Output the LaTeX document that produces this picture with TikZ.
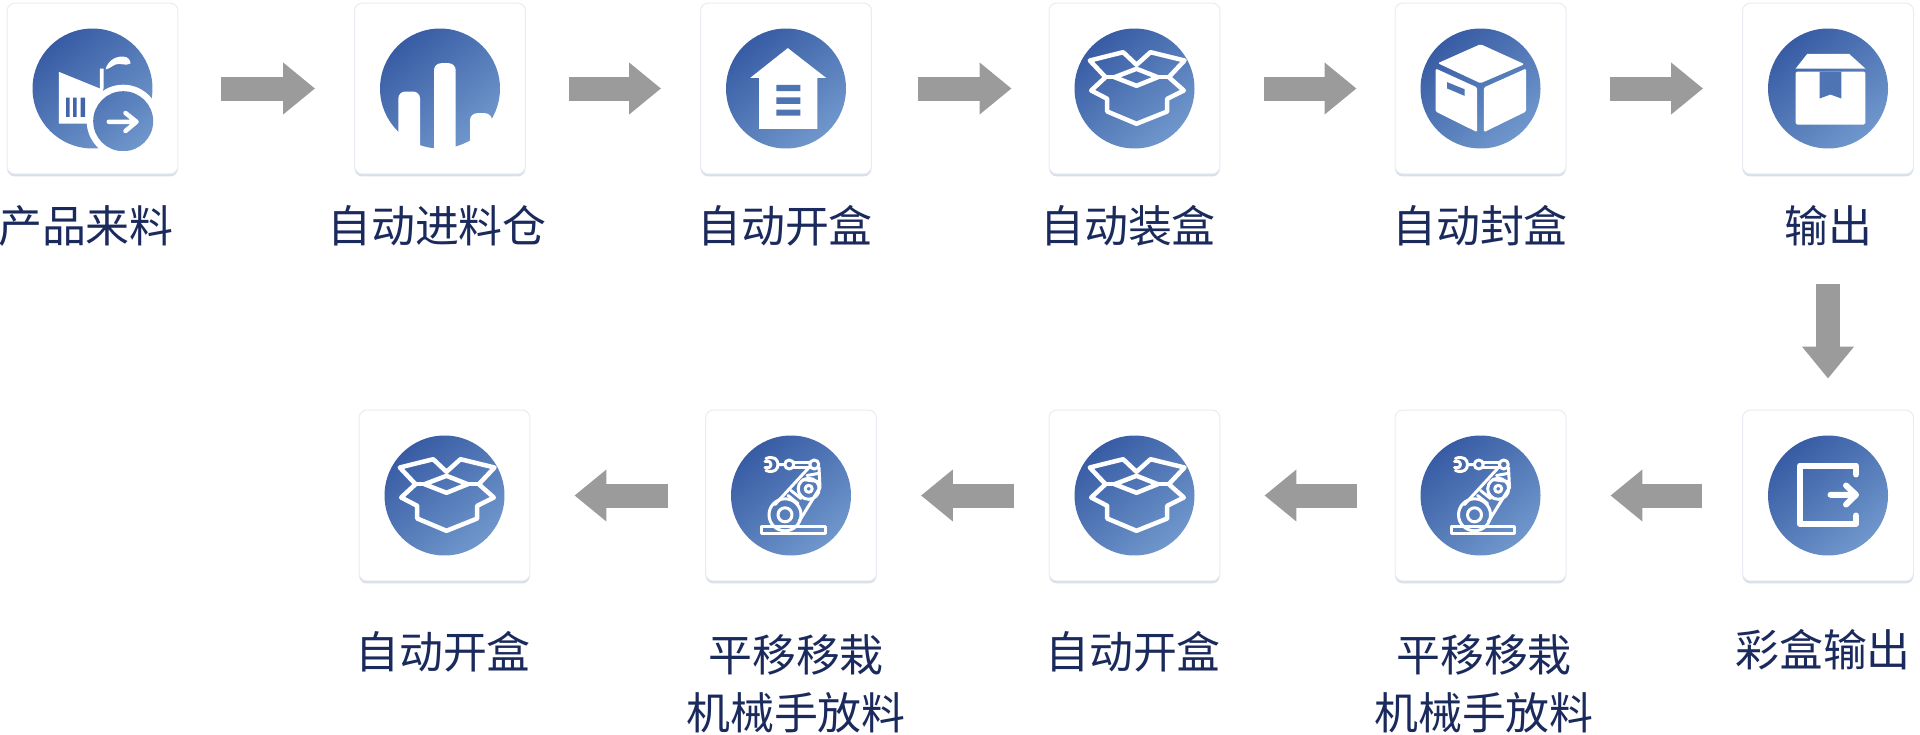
\documentclass[tikz,border=0pt]{standalone}
\usepackage{xcolor}
\usepackage{fontspec}
\setmainfont{Noto Sans CJK SC}
\definecolor{ballA}{HTML}{385CA4}
\definecolor{ballB}{HTML}{7097CC}
\definecolor{labelnavy}{HTML}{1B2A5C}
\definecolor{arrowgray}{HTML}{9B9B9B}
\definecolor{cardline}{HTML}{E8ECF2}
\definecolor{cardshade}{HTML}{BCC9DB}
\usetikzlibrary{arrows.meta, shadows}

\begin{document}
\begin{tikzpicture}[x=0.02cm, y=-0.02cm,
    card/.style={draw=cardline, line width=0.02cm, fill=white, rounded corners=0.16cm,
      minimum width=3.42cm, minimum height=3.42cm, inner sep=0pt,
      drop shadow={shadow xshift=0cm, shadow yshift=-0.05cm, opacity=0.6, fill=cardshade}},
    ball/.style={circle, minimum size=2.4cm, inner sep=0pt, top color=ballA, bottom color=ballB, shading angle=40},
    steplabel/.style={text=labelnavy, align=center, inner sep=0pt, font=\fontsize{25}{33}\selectfont},
    flowarrow/.style={draw=arrowgray, line width=0.48cm, -{Triangle[length=0.64cm, width=1.0cm]}, shorten <=0.86cm, shorten >=0.78cm},
    backarrow/.style={flowarrow, shorten <=0.76cm, shorten >=0.88cm},
    downarrow/.style={flowarrow, shorten <=2.2cm, shorten >=0.62cm},
    iconline/.style={draw=white, line width=0.09cm, line join=round, line cap=round},
    thinline/.style={draw=white, line width=0.06cm, line join=round, line cap=round},
    factoryicon/.pic={
      \fill[white] (-33.7,-16.7) -- (7.3,0) -- (7.3,-20) -- (11,-20) -- (11,0) -- (-2,35) -- (-33.7,35) -- cycle;
      \fill[white] (13,-19) .. controls (15,-27) and (22,-32) .. (30,-32) .. controls (36,-32) and (38,-28) .. (38,-25) .. controls (33,-22) and (28,-26) .. (23,-24) .. controls (19,-22) and (17,-20) .. (13,-19) -- cycle;
      \fill[ballA!85!ballB] (-26.3,9) rectangle (-23,28.3) (-19.3,9) rectangle (-16,28.3) (-12,9) rectangle (-7.5,28.3);
      \begin{scope}
        \clip (-70,-70) rectangle (60.7,62.3);
        \fill[white] (30.7,32.7) circle [radius=36.5];
        \shade[top color=ballA!55!ballB, bottom color=ballB, shading angle=40] (30.7,32.7) circle [radius=30];
      \end{scope}
      \draw[iconline] (16.3,33.3) -- (44,33.3) (33,24.5) -- (44,33.3) -- (33,42.5);
    },
    siloicon/.pic={
      \fill[white, rounded corners=0.14cm] (-41.7,70) rectangle (-20,3);
      \fill[white, rounded corners=0.14cm] (-6,70) rectangle (15.7,-25.3);
      \fill[white, rounded corners=0.14cm] (30,70) rectangle (52,24.7);
    },
    houseicon/.pic={
      \fill[white] (1.8,-40.4) -- (40,-10.7) -- (31.4,-10.7) -- (31.4,40.4) -- (-26.8,40.4) -- (-26.8,-10.7) -- (-35.7,-10.7) -- cycle;
      \fill[ballA!60!ballB] (-9.6,-3.6) rectangle (14.3,2.5) (-9.6,8.9) rectangle (14.3,15.4) (-9.6,21) rectangle (14.3,27);
    },
    openboxicon/.pic={
      \draw[iconline] (-44.7,-28) -- (-11.3,-36.3) -- (2,-23.7) -- (16,-36.3) -- (50,-28) -- (34.3,-11.3) -- (49.3,2) -- (32.7,10.3) -- (32.7,23) -- (2,35.3) -- (-27.3,23) -- (-27.3,10.3) -- (-43.3,2) -- (-29,-11.3) -- cycle;
      \draw[iconline] (2,-19.7) -- (23.3,-11.3) -- (2,-2.7) -- (-20,-11.3) -- cycle;
      \draw[iconline] (-29,-11.3) -- (-20,-11.3) (23.3,-11.3) -- (34.3,-11.3);
    },
    cubeicon/.pic={
      \fill[white, rounded corners=0.03cm] (0,-44.3) -- (44,-24.3) -- (0,-5.3) -- (-42.7,-25.3) -- cycle;
      \fill[white, rounded corners=0.03cm] (-45,-20) -- (-3.3,-1) -- (-3.3,43.7) -- (-45,23) -- cycle;
      \fill[white, rounded corners=0.03cm] (3.3,-1) -- (45.7,-20) -- (45.7,23) -- (3.3,43.7) -- cycle;
      \fill[ballA!60!ballB] (-33.3,-6.3) -- (-16,0.7) -- (-16,7.3) -- (-33.3,0) -- cycle;
    },
    parcelicon/.pic={
      \fill[white] (-20.7,-34.7) -- (21,-34.7) -- (37.3,-20) -- (-32.3,-20) -- cycle;
      \fill[white, rounded corners=0.03cm] (-32.3,-17) rectangle (37.3,36);
      \fill[ballA!60!ballB] (-8.3,-17) -- (13.3,-17) -- (13.3,10) -- (2.3,6) -- (-8.3,10) -- cycle;
    },
    exiticon/.pic={
      \draw[white, line width=0.12cm, line join=round, line cap=round] (28,-21) -- (28,-30) -- (-28,-30) -- (-28,28.6) -- (28,28.6) -- (28,20);
      \draw[white, line width=0.12cm, line join=round, line cap=round] (2.5,-0.7) -- (28,-0.7) (18,-10) -- (28,-0.7) -- (18,9);
    },
    roboticon/.pic={
      \draw[thinline] (-29.3,30.7) rectangle (34.3,38.3);
      \draw[thinline] (-6,19.3) circle [radius=16] (-6,19.3) circle [radius=7];
      \draw[thinline] (17.7,-6.7) circle [radius=10.5] (17.7,-6.7) circle [radius=3.5];
      \draw[thinline] (23.3,-31) circle [radius=4.5] (-1.7,-31) circle [radius=4.5];
      \draw[thinline] (3,-33.5) -- (19,-33.5) (3,-28.5) -- (19,-28.5);
      \draw[thinline] (-6.5,-31) -- (-13,-31) (-25,-37) .. controls (-17,-40) and (-13,-36) .. (-13,-31) .. controls (-13,-26) and (-17,-22) .. (-25,-25);
      \draw[thinline] (-26,-34) .. controls (-21,-35) and (-20,-33) .. (-20,-31) .. controls (-20,-29) and (-21,-27) .. (-26,-28);
      \draw[thinline] (18,-28) -- (-16,9) (28,-28) -- (29,-8) -- (8,26);
      \draw[thinline] (16,-20) -- (27,-22) (12,-16) -- (27,-14);
      \draw[thinline] (-3,0) -- (7,8) (0,-5) -- (10,3);
    }
]
  \useasboundingbox (0,0) rectangle (1920,734);

  % cards of the upper row
  \node[card] (card1) at (92.5,88.5) {};
  \node[card] (card2) at (440,88.5) {};
  \node[card] (card3) at (786,88.5) {};
  \node[card] (card4) at (1134.5,88.5) {};
  \node[card] (card5) at (1480.5,88.5) {};
  \node[card] (card6) at (1828,88.5) {};

  % cards of the lower row
  \node[card] (card7) at (1828,495.5) {};
  \node[card] (card8) at (1480.5,495.5) {};
  \node[card] (card9) at (1134.5,495.5) {};
  \node[card] (card10) at (791,495.5) {};
  \node[card] (card11) at (444.5,495.5) {};

  % round icons
  \node[ball] (ball1) at (card1) {};
  \node[ball] (ball2) at (card2) {};
  \node[ball] (ball3) at (card3) {};
  \node[ball] (ball4) at (card4) {};
  \node[ball] (ball5) at (card5) {};
  \node[ball] (ball6) at (card6) {};
  \node[ball] (ball7) at (card7) {};
  \node[ball] (ball8) at (card8) {};
  \node[ball] (ball9) at (card9) {};
  \node[ball] (ball10) at (card10) {};
  \node[ball] (ball11) at (card11) {};

  \pic at (ball1) {factoryicon};
  \pic at (ball2) {siloicon};
  \pic at (ball3) {houseicon};
  \pic at (ball4) {openboxicon};
  \pic at (ball5) {cubeicon};
  \pic at (ball6) {parcelicon};
  \pic at (ball7) {exiticon};
  \pic at (ball8) {roboticon};
  \pic at (ball9) {openboxicon};
  \pic at (ball10) {roboticon};
  \pic at (ball11) {openboxicon};

  % labels
  \node[steplabel] (label1) at (86,226) {产品来料};
  \node[steplabel] (label2) at (437,226) {自动进料仓};
  \node[steplabel] (label3) at (785,226) {自动开盒};
  \node[steplabel] (label4) at (1128,226) {自动装盒};
  \node[steplabel] (label5) at (1480,226) {自动封盒};
  \node[steplabel] (label6) at (1828,226) {输出};
  \node[steplabel] (label7) at (1823,650) {彩盒输出};
  \node[steplabel] (label8) at (1484,684) {平移移栽\\机械手放料};
  \node[steplabel] (label9) at (1133,652) {自动开盒};
  \node[steplabel] (label10) at (796,684) {平移移栽\\机械手放料};
  \node[steplabel] (label11) at (443,652) {自动开盒};

  % arrows
  \draw[flowarrow] (card1) -- (card2);
  \draw[flowarrow] (card2) -- (card3);
  \draw[flowarrow, shorten <=0.92cm, shorten >=0.74cm] (card3) -- (card4);
  \draw[flowarrow, shorten <=0.88cm, shorten >=0.76cm] (card4) -- (card5);
  \draw[flowarrow, shorten <=0.88cm, shorten >=0.78cm] (card5) -- (card6);
  \draw[downarrow] (card6) -- (card7);
  \draw[backarrow, shorten <=0.8cm] (card7) -- (card8);
  \draw[backarrow] (card8) -- (card9);
  \draw[backarrow, shorten <=0.7cm] (card9) -- (card10);
  \draw[backarrow, shorten <=0.74cm] (card10) -- (card11);
\end{tikzpicture}
\end{document}
